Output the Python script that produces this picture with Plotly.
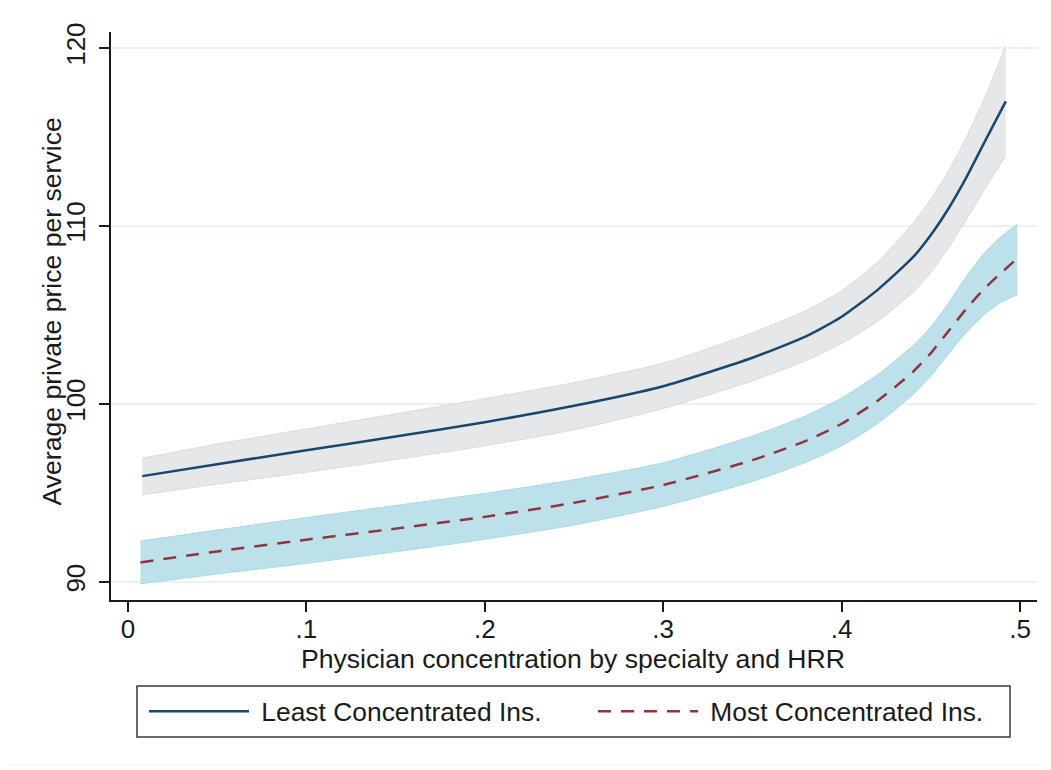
import plotly.graph_objects as go

# ---- data ----
least_x = [0.008, 0.05, 0.10, 0.15, 0.20, 0.25, 0.30, 0.35, 0.38, 0.40, 0.42, 0.44, 0.45, 0.46, 0.47, 0.48, 0.492]
least_mid = [95.95, 96.62, 97.4, 98.17, 98.98, 99.9, 101.0, 102.6, 103.8, 104.9, 106.4, 108.25, 109.5, 111.0, 112.75, 114.7, 117.0]
least_lo = [94.9, 95.5, 96.17, 96.88, 97.65, 98.55, 99.75, 101.3, 102.44, 103.4, 104.64, 106.28, 107.38, 108.78, 110.38, 112.03, 113.95]
least_hi = [96.95, 97.75, 98.6, 99.45, 100.3, 101.2, 102.3, 104.0, 105.26, 106.36, 107.96, 110.16, 111.51, 113.11, 115.01, 117.16, 120.16]

most_x = [0.007, 0.05, 0.10, 0.15, 0.20, 0.25, 0.30, 0.35, 0.38, 0.40, 0.42, 0.44, 0.45, 0.46, 0.47, 0.48, 0.488, 0.4985]
most_mid = [91.1, 91.72, 92.38, 93.0, 93.66, 94.45, 95.45, 96.85, 97.93, 98.89, 100.17, 101.81, 102.86, 104.11, 105.36, 106.48, 107.24, 108.18]
most_lo = [89.9, 90.45, 91.05, 91.7, 92.4, 93.2, 94.25, 95.65, 96.73, 97.65, 98.89, 100.53, 101.58, 102.83, 104.03, 105.03, 105.63, 106.15]
most_hi = [92.3, 92.92, 93.62, 94.3, 94.98, 95.75, 96.7, 98.2, 99.34, 100.34, 101.64, 103.28, 104.33, 105.68, 107.18, 108.48, 109.28, 110.12]

x_tickvals = [0, 0.1, 0.2, 0.3, 0.4, 0.5]
x_ticktext = ["0", ".1", ".2", ".3", ".4", ".5"]
y_tickvals = [90, 100, 110, 120]
y_ticktext = ["90", "100", "110", "120"]

series_names = ["Least Concentrated Ins.", "Most Concentrated Ins."]
x_title = "Physician concentration by specialty and HRR"
y_title = "Average private price per service"

FONT = "Liberation Sans, Arial, Helvetica, sans-serif"
TXT = "#1a1a1a"
NAVY = "#1a476f"
MAROON = "#90353b"

fig = go.Figure()

def band(x, lo, hi, fill, edge):
    fig.add_trace(go.Scatter(
        x=x, y=lo, mode="lines", line=dict(color=edge, width=1, shape="spline", smoothing=0.6),
        showlegend=False, hoverinfo="skip"))
    fig.add_trace(go.Scatter(
        x=x, y=hi, mode="lines", fill="tonexty", fillcolor=fill,
        line=dict(color=edge, width=1, shape="spline", smoothing=0.6),
        showlegend=False, hoverinfo="skip"))

# confidence bands
band(least_x, least_lo, least_hi, "#e6e7e9", "#dadbdd")
band(most_x, most_lo, most_hi, "#bde1eb", "#a9d8e6")

# fitted lines
fig.add_trace(go.Scatter(
    x=least_x, y=least_mid, mode="lines", name="\u00a0" + series_names[0],
    line=dict(color=NAVY, width=2.5, shape="spline", smoothing=0.6)))
fig.add_trace(go.Scatter(
    x=most_x, y=most_mid, mode="lines", name="\u00a0" + series_names[1],
    line=dict(color=MAROON, width=2.5, dash="13px,10px", shape="spline", smoothing=0.6)))

# page is offset by the 8px body margin: work in screen pixels
OFF = 8
L, R, T, B = 111 - OFF, 14, 32 - OFF, 170
W, H = 1051 - OFF, 770 - OFF
pw, ph = W - L - R, H - T - B

def px(xs):
    return (xs - OFF - L) / pw

def py(ys):
    return (H - B - (ys - OFF)) / ph

fig.update_layout(
    width=W, height=H,
    margin=dict(l=L, r=R, t=T, b=B, autoexpand=False),
    paper_bgcolor="white", plot_bgcolor="white",
    font=dict(family=FONT, size=26, color=TXT),
    showlegend=True,
    legend=dict(
        orientation="h", x=px(144), xanchor="left", y=py(711.5), yanchor="middle",
        bgcolor="rgba(0,0,0,0)", borderwidth=0, itemwidth=100, entrywidth=334,
        font=dict(family=FONT, size=26.4, color=TXT), traceorder="normal",
    ),
    shapes=[
        dict(type="rect", xref="paper", yref="paper", x0=px(137), x1=px(1010), y0=py(737), y1=py(686),
             line=dict(color="#3a3a3a", width=1.5), fillcolor="rgba(0,0,0,0)", layer="below"),
        dict(type="rect", xref="paper", yref="paper", x0=px(7), x1=px(1046), y0=py(765), y1=py(5),
             line=dict(color="#f0f0f0", width=1), fillcolor="rgba(0,0,0,0)", layer="below"),
    ],
    annotations=[
        dict(text=x_title, xref="paper", yref="paper", x=px(572.5), y=py(659),
             xanchor="center", yanchor="middle", showarrow=False,
             font=dict(family=FONT, size=26.6, color=TXT)),
        dict(text=y_title, xref="paper", yref="paper", x=px(51), y=py(311.5),
             xanchor="center", yanchor="middle", showarrow=False, textangle=-90,
             font=dict(family=FONT, size=26.6, color=TXT)),
    ],
)

fig.update_xaxes(
    range=[-0.0095, 0.5095], tickvals=x_tickvals, ticktext=x_ticktext,
    showgrid=False, zeroline=False, showline=True, linecolor=TXT, linewidth=1.5,
    ticks="outside", ticklen=10, tickwidth=1.5, tickcolor=TXT, ticklabelstandoff=-5,
    tickfont=dict(family=FONT, size=26, color=TXT),
)
fig.update_yaxes(
    range=[88.99, 120.9], tickvals=y_tickvals, ticktext=y_ticktext, tickangle=-90,
    showgrid=True, gridcolor="#e9f2f4", gridwidth=2, zeroline=False,
    showline=True, linecolor=TXT, linewidth=1.5,
    ticks="outside", ticklen=10, tickwidth=1.5, tickcolor=TXT, ticklabelstandoff=4,
    tickfont=dict(family=FONT, size=26, color=TXT),
)

fig.write_html("out.html")
